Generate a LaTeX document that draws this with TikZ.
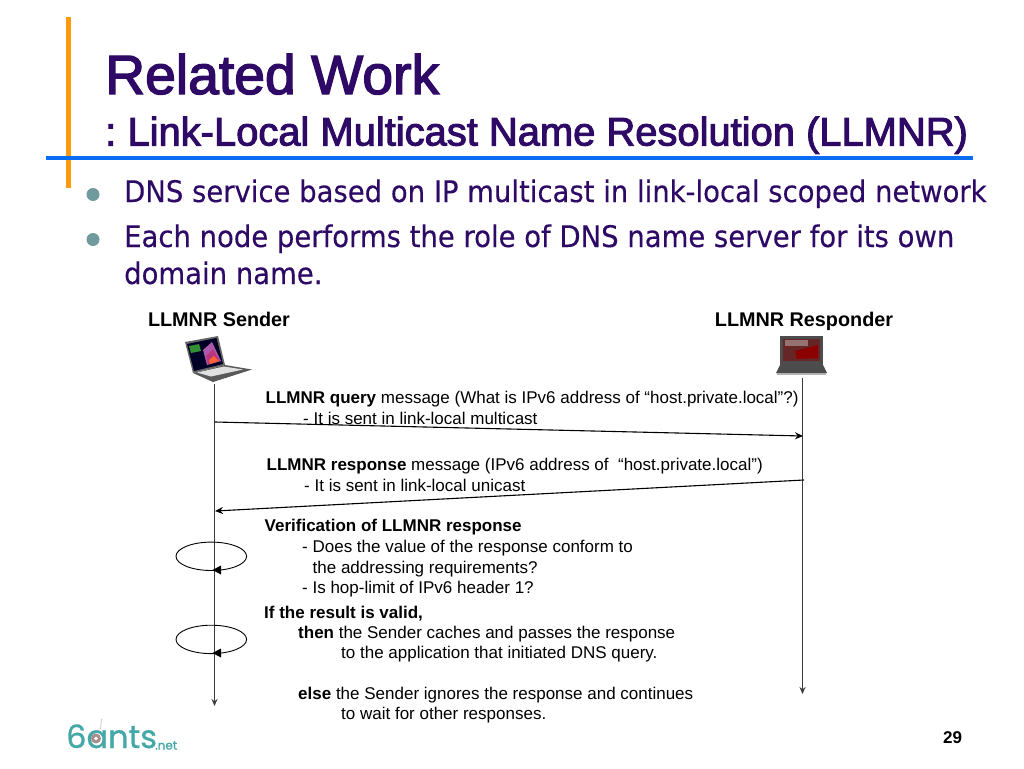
\documentclass[tikz,border=0pt]{standalone}
\usepackage{fontspec}
\setmainfont{Liberation Sans}
\newfontfamily\tahomaish[FakeStretch=0.925,FakeBold=0.25]{DejaVu Sans}
\newfontfamily\titlefont[FakeBold=2.5]{Liberation Sans}
\newfontfamily\logofont[FakeBold=0.8]{Poppins}
\definecolor{titlecol}{HTML}{2E0A66}
\definecolor{bodycol}{HTML}{2E0A66}
\definecolor{orangebar}{HTML}{FF9A0F}
\definecolor{bluebar}{HTML}{0A6CF0}
\definecolor{bulletcol}{HTML}{6F9A9E}
\definecolor{lifecol}{HTML}{3C3C3C}
\definecolor{logocol}{HTML}{45A8A8}
\usetikzlibrary{arrows.meta,shapes.geometric}
\tikzset{
  titleA/.style={anchor=base west,inner sep=0pt,text=titlecol,font=\fontsize{55.3}{56}\titlefont},
  titleB/.style={anchor=base west,inner sep=0pt,text=titlecol,font=\fontsize{39.9}{40}\titlefont},
  bodytxt/.style={anchor=base west,inner sep=0pt,text=bodycol,font=\fontsize{29.7}{30}\tahomaish},
  small/.style={anchor=base west,inner sep=0pt,text=black,font=\fontsize{17}{18}\selectfont},
  head/.style={anchor=base,inner sep=0pt,text=black,font=\fontsize{19.8}{20}\selectfont\bfseries},
  lifeline/.style={draw=lifecol,-{Stealth[length=7pt,width=6pt]}},
  msg/.style={draw=black,line width=1.1pt,-{Stealth[length=8pt,width=7pt]}},
  loopring/.style={draw=black,line width=0.9pt},
  looptip/.style={fill=black,draw=none},
  bulletdot/.style={circle,fill=bulletcol,draw=none,minimum size=13pt,inner sep=0pt},
}
\begin{document}
\begin{tikzpicture}[x=1pt,y=-1pt]
\useasboundingbox[fill=white] (0,0) rectangle (1024,768);
% decoration bars
\fill[orangebar] (66,17) rectangle (70.5,188);
\fill[bluebar] (46,156) rectangle (973,160);
% title
\node[titleA] (t1) at (105,94) {Related Work};
\node[titleB] (t2) at (105,145.5) {:\hspace{-3.5pt} Link-Local Multicast Name Resolution (LLMNR)};
% bullets
\node[bulletdot] (b1) at (93,194.5) {};
\node[bulletdot] (b2) at (93,239.5) {};
\node[bodytxt] (l1) at (124,202) {DNS service based on IP multicast in link-local scoped network};
\node[bodytxt] (l2) at (124,247) {Each node performs the role of DNS name server for its own};
\node[bodytxt] (l3) at (124,284) {domain name.};
% heads
\node[head] (hs) at (219,326.5) {LLMNR Sender};
\node[head] (hr) at (804,326.5) {LLMNR Responder};
% sender laptop
\fill[black!60] (185,342) -- (218,336) -- (225,365) -- (193,373) -- cycle;
\fill[black!85!blue] (187,344) -- (216.5,338) -- (223,364) -- (194,371) -- cycle;
\fill[violet!65!white] (203,350) -- (212,342) -- (221,361) -- (207,365) -- cycle;
\fill[magenta!45!violet] (206,356) -- (213,349) -- (220,361) -- (208,364) -- cycle;
\fill[red!55!orange!80!white] (209,360) -- (214,356) -- (219,361) -- (210,364) -- cycle;
\fill[green!45!black!80!white] (189,346) -- (199,344) -- (201,351) -- (191,353) -- cycle;
\fill[black!65] (193,373) -- (225,365) -- (252,369.5) -- (213,382) -- cycle;
\fill[black!12] (197,372.5) -- (224,366.5) -- (243,369.5) -- (211,376.5) -- cycle;
% responder laptop
\fill[black!70] (780,336) rectangle (823,365);
\fill[red!30!black!85!white] (783,338.5) rectangle (820,361);
\fill[red!25!black!55!white] (785,340) rectangle (808,346);
\fill[red!55!black] (795,351) -- (818,345) -- (818,358) -- (797,359) -- cycle;
\fill[black!70] (780,365) -- (823,365) -- (827,373) -- (776,373) -- cycle;
\fill[black!30] (777,373) rectangle (826,374.5);
% lifelines
\coordinate (stop) at (214.5,384);
\coordinate (sbot) at (214.5,706);
\coordinate (rtop) at (802.5,378);
\coordinate (rbot) at (802.5,694);
\draw[lifeline,line width=1.6pt] (stop) -- (sbot);
\draw[lifeline,line width=1.1pt] (rtop) -- (rbot);
% messages
\coordinate (qa) at (215,422);
\coordinate (qb) at (803,436);
\coordinate (ra) at (804,480);
\coordinate (rb) at (215,511);
\draw[msg] (qa) -- (qb);
\draw[msg] (ra) -- (rb);
% self loops
\node[loopring,ellipse,minimum width=70.6pt,minimum height=28.4pt,inner sep=0pt] (e1) at (211.3,556.3) {};
\node[loopring,ellipse,minimum width=70.6pt,minimum height=28.4pt,inner sep=0pt] (e2) at (211.3,639.4) {};
\fill[looptip] (212.5,570) -- (221,565.5) -- (221,574.5) -- cycle;
\fill[looptip] (212.5,653) -- (221,648.5) -- (221,657.5) -- cycle;
% message texts
\node[small] (m1) at (265.5,403) {\textbf{LLMNR query} message (What is IPv6 address of “host.private.local”?)};
\node[small] (m2) at (303,424) {- It is sent in link-local multicast};
\node[small] (m3) at (266.5,470) {\textbf{LLMNR response} message (IPv6 address of\ \ “host.private.local”)};
\node[small] (m4) at (304,491) {- It is sent in link-local unicast};
\node[small] (m5) at (264.5,531.5) {\textbf{Verification of LLMNR response}};
\node[small] (m6) at (302,552) {- Does the value of the response conform to};
\node[small] (m7) at (312.5,573) {the addressing requirements?};
\node[small] (m8) at (302,593) {- Is hop-limit of IPv6 header 1?};
\node[small] (m9) at (264,618) {\textbf{If the result is valid,}};
\node[small] (m10) at (298,638.5) {\textbf{then} the Sender caches and passes the response};
\node[small] (m11) at (341,658.5) {to the application that initiated DNS query.};
\node[small] (m12) at (298,699.5) {\textbf{else} the Sender ignores the response and continues};
\node[small] (m13) at (341,719.5) {to wait for other responses.};
% page number
\node[small,font=\fontsize{17}{18}\selectfont\bfseries] (pg) at (943,743) {29};
% logo
\draw[black!25,line width=0.6pt] (101.5,719) -- (100.5,729);
\node[anchor=base west,inner sep=0pt,text=logocol,font=\fontsize{32}{32}\logofont] (lg) at (66,748) {6ants};
\node[anchor=base west,inner sep=0pt,text=logocol,font=\fontsize{12}{12}\logofont] (lg2) at (155,749.5) {.net};
\fill[red!25!black!45!white] (96,738.5) circle (5pt);
\fill[white] (96,738.5) circle (1.8pt);
\end{tikzpicture}
\end{document}
